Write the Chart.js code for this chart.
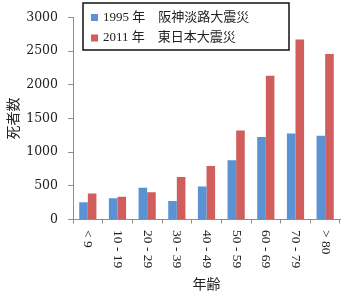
<!DOCTYPE html>
<html>
<head>
<meta charset="utf-8">
<script src="https://cdn.jsdelivr.net/npm/chart.js@4/dist/chart.umd.min.js"></script>
<style>
    body { margin: 0; background: #fff; }
    canvas { display: block; }
</style>
</head>
<body>
<canvas id="deathChart" width="342" height="292"></canvas>
<script>
const ageGroups = ["< 9", "10 - 19", "20 - 29", "30 - 39", "40 - 49", "50 - 59", "60 - 69", "70 - 79", "> 80"];
const hanshinDeaths = [255, 317, 471, 274, 490, 880, 1226, 1279, 1245];
const tohokuDeaths = [385, 337, 404, 630, 793, 1322, 2135, 2673, 2457];
const seriesLabels = ["1995 年　阪神淡路大震災", "2011 年　東日本大震災"];
const yTicks = [0, 500, 1000, 1500, 2000, 2500, 3000];

const axisGrey = '#8e8e8e';
const serifFont = '"Liberation Serif", "Noto Sans CJK JP", serif';

// x labels read top to bottom (rotated clockwise), and the legend sits in a framed box
const customLabels = {
    id: 'customLabels',
    afterDraw(chart) {
        const ctx = chart.ctx;
        const xScale = chart.scales.x;
        const area = chart.chartArea;
        ctx.save();
        ctx.fillStyle = '#222';
        ctx.font = '13.5px ' + serifFont;
        ctx.textAlign = 'left';
        ctx.textBaseline = 'middle';
        ageGroups.forEach((label, i) => {
            const x = xScale.getPixelForValue(i);
            ctx.save();
            ctx.translate(x, area.bottom + 10.5);
            ctx.rotate(Math.PI / 2);
            ctx.fillText(label, 0, 0);
            ctx.restore();
        });

        // legend box
        const boxLeft = area.left + 10;
        const boxTop = 3;
        ctx.lineWidth = 1.5;
        ctx.strokeStyle = '#111';
        ctx.strokeRect(boxLeft, boxTop, 206, 47);
        ctx.font = '13px ' + serifFont;
        chart.data.datasets.forEach((ds, i) => {
            const cy = boxTop + 14.5 + i * 20.5;
            ctx.fillStyle = ds.backgroundColor;
            ctx.fillRect(boxLeft + 8, cy - 3.5, 7, 7);
            ctx.fillStyle = '#222';
            ctx.fillText(ds.label, boxLeft + 20, cy);
        });
        ctx.restore();
    }
};

const ctx = document.getElementById('deathChart').getContext('2d');
const deathChart = new Chart(ctx, {
    type: 'bar',
    data: {
        labels: ageGroups,
        datasets: [
            {
                label: seriesLabels[0],
                data: hanshinDeaths,
                backgroundColor: '#5b92d3',
                borderWidth: 0,
                barPercentage: 1,
                categoryPercentage: 0.58
            },
            {
                label: seriesLabels[1],
                data: tohokuDeaths,
                backgroundColor: '#cf5e5c',
                borderWidth: 0,
                barPercentage: 1,
                categoryPercentage: 0.58
            }
        ]
    },
    options: {
        responsive: false,
        animation: false,
        devicePixelRatio: 1,
        layout: { padding: { top: 10.5, right: 2, left: 0, bottom: 0 } },
        plugins: {
            legend: { display: false },
            tooltip: { enabled: false }
        },
        scales: {
            x: {
                offset: true,
                grid: { offset: true, drawOnChartArea: false, color: axisGrey, tickLength: 4 },
                border: { color: axisGrey, width: 1 },
                ticks: { display: false },
                title: {
                    display: true,
                    text: '年齢',
                    color: '#222',
                    font: { family: '"Noto Sans CJK JP", sans-serif', size: 14 },
                    padding: { top: 0, bottom: 0 }
                },
                afterFit(scale) { scale.height = 72.5; }
            },
            y: {
                min: 0,
                max: 3000,
                afterBuildTicks(scale) { scale.ticks = yTicks.map(v => ({ value: v })); },
                grid: { drawOnChartArea: false, color: axisGrey, tickLength: 5 },
                border: { color: axisGrey, width: 1 },
                ticks: {
                    color: '#222',
                    padding: 10,
                    font: { family: '"DejaVu Serif", serif', size: 12.5 },
                    callback: value => String(value)
                },
                title: {
                    display: true,
                    text: '死者数',
                    color: '#222',
                    font: { family: '"Noto Sans CJK JP", sans-serif', size: 14 },
                    padding: { top: 4, bottom: 0 }
                },
                afterFit(scale) { scale.width = 73; }
            }
        }
    },
    plugins: [customLabels]
});
</script>
</body>
</html>
